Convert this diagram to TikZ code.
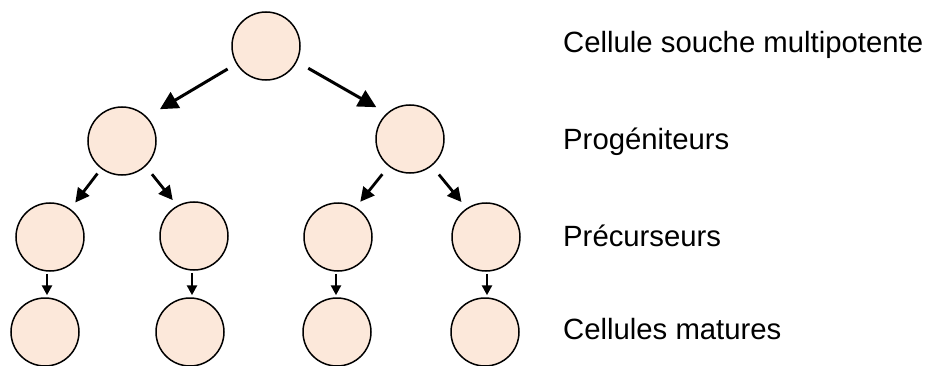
\documentclass[tikz,border=0pt]{standalone}
\usepackage{fontspec}
\setmainfont{Liberation Sans}
\usetikzlibrary{arrows.meta}
\definecolor{cellfill}{RGB}{252,232,218}
\begin{document}
\begin{tikzpicture}[x=1pt,y=1pt,
  cell/.style={circle,draw=black,line width=1.5pt,fill=cellfill,minimum size=68pt,inner sep=0pt},
  bigarrow/.style={line width=3pt,-{Triangle[length=18pt,width=18pt]}},
  midarrow/.style={line width=2.8pt,-{Triangle[length=14pt,width=14pt]}},
  smallarrow/.style={line width=2.8pt,-{Triangle[length=10pt,width=10pt]}},
  lab/.style={anchor=base west,inner sep=0pt,font=\fontsize{29.3}{35}\selectfont}]
\useasboundingbox (0,0) rectangle (927,365);
% level 1
\node[cell] (top) at (266,319) {};
% level 2
\node[cell] (pa) at (122,224) {};
\node[cell] (pb) at (410,226) {};
% level 3
\node[cell] (ra) at (50,128) {};
\node[cell] (rb) at (194,129) {};
\node[cell] (rc) at (338,128) {};
\node[cell] (rd) at (486,128) {};
% level 4
\node[cell] (ma) at (45,33) {};
\node[cell] (mb) at (190,33) {};
\node[cell] (mc) at (337,33) {};
\node[cell] (md) at (485,33) {};
% arrows level 1 -> 2
\draw[bigarrow,shorten <=10pt,shorten >=15pt] (top.211) -- (pa.44);
\draw[bigarrow,shorten <=13pt,shorten >=12pt] (top.-27) -- (pb.132);
% arrows level 2 -> 3
\draw[midarrow,shorten <=6pt,shorten >=8pt] (pa.233) -- (ra.54);
\draw[midarrow,shorten <=10pt,shorten >=7pt] (pa.-47) -- (rb.119);
\draw[midarrow,shorten <=10pt,shorten >=7pt] (pb.232) -- (rc.59);
\draw[midarrow,shorten <=11pt,shorten >=8pt] (pb.-51) -- (rd.124);
% arrows level 3 -> 4
\draw[smallarrow,shorten <=2pt,shorten >=2pt] ([xshift=-3pt]ra.south) -- ([xshift=-3pt]ra.south |- ma.north);
\draw[smallarrow,shorten <=2pt,shorten >=2pt] ([xshift=-2pt]rb.south) -- ([xshift=-2pt]rb.south |- mb.north);
\draw[smallarrow,shorten <=2pt,shorten >=2pt] ([xshift=-2pt]rc.south) -- ([xshift=-2pt]rc.south |- mc.north);
\draw[smallarrow,shorten <=2pt,shorten >=2pt] ([xshift=1pt]rd.south) -- ([xshift=1pt]rd.south |- md.north);
% labels
\node[lab] (l1) at (563,312) {Cellule souche multipotente};
\node[lab] (l2) at (563,216) {Progéniteurs};
\node[lab] (l3) at (563,119) {Précurseurs};
\node[lab] (l4) at (563,26) {Cellules matures};
\end{tikzpicture}
\end{document}
